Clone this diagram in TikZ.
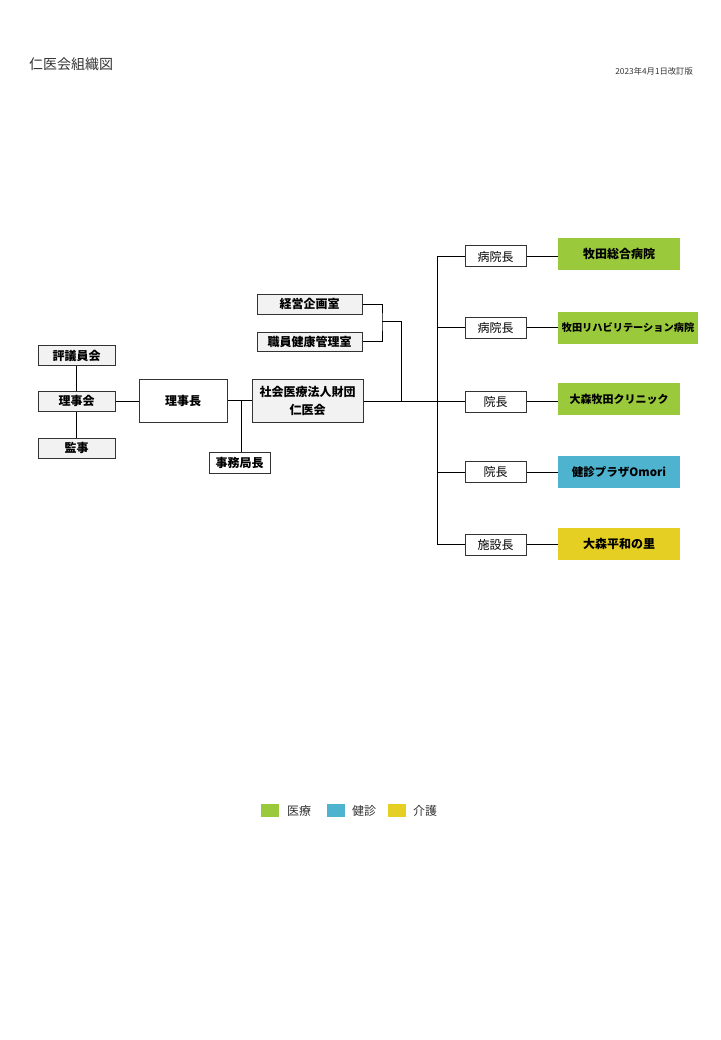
\documentclass[tikz,border=0pt]{standalone}
\usepackage{fontspec}
\setmainfont{Noto Sans CJK JP}
\definecolor{boxgray}{HTML}{F2F2F2}
\definecolor{linegray}{HTML}{333333}
\definecolor{igreen}{HTML}{9ACA3C}
\definecolor{iblue}{HTML}{4DB3CF}
\definecolor{iyellow}{HTML}{E4CF22}
\begin{document}
\begin{tikzpicture}[x=1pt,y=-1pt,
  base/.style={draw=linegray,line width=1pt,inner sep=0pt,font=\fontsize{12}{18}\selectfont\bfseries,align=center},
  graybox/.style={base,fill=boxgray},
  whitebox/.style={base,fill=white},
  colbox/.style={inner sep=0pt,font=\fontsize{12}{14}\selectfont\bfseries,minimum width=122pt,minimum height=32pt},
  conn/.style={draw=black,line width=1pt},
  legsq/.style={inner sep=0pt,minimum width=18pt,minimum height=13pt},
  legtxt/.style={anchor=west,inner sep=0pt,font=\fontsize{12}{14}\selectfont,text=linegray}]
\fill[white] (0,0) rectangle (720,1040);
\useasboundingbox (0,0) rectangle (720,1040);
% title and date
\node[anchor=west,inner sep=0pt,font=\fontsize{14}{16}\selectfont,text=linegray] (title) at (29,64) {仁医会組織図};
\node[anchor=east,inner sep=0pt,font=\fontsize{8.3}{10}\selectfont,text=linegray] (date) at (693,71) {2023年4月1日改訂版};
% left cluster
\node[graybox,minimum width=77pt,minimum height=20pt] (hyogi) at (76.5,355.5) {評議員会};
\node[graybox,minimum width=77pt,minimum height=20pt] (rijikai) at (76.5,401) {理事会};
\node[graybox,minimum width=77pt,minimum height=20pt] (kanji) at (76.5,448) {監事};
\node[whitebox,minimum width=88pt,minimum height=43pt] (rijicho) at (183,400.5) {理事長};
\node[graybox,minimum width=111pt,minimum height=43pt] (zaidan) at (307.5,400.5) {社会医療法人財団\\仁医会};
\node[whitebox,minimum width=61pt,minimum height=21pt] (jimu) at (239.5,462.5) {事務局長};
\node[graybox,minimum width=105pt,minimum height=20pt] (keiei) at (309.5,304) {経営企画室};
\node[graybox,minimum width=105pt,minimum height=19pt] (shokuin) at (309.5,341.5) {職員健康管理室};
% right column heads
\node[whitebox,minimum width=61pt,minimum height=21pt] (h1) at (495.5,256.5) {\mdseries 病院長};
\node[whitebox,minimum width=61pt,minimum height=21pt] (h2) at (495.5,327.5) {\mdseries 病院長};
\node[whitebox,minimum width=61pt,minimum height=21pt] (h3) at (495.5,401.5) {\mdseries 院長};
\node[whitebox,minimum width=61pt,minimum height=21pt] (h4) at (495.5,472) {\mdseries 院長};
\node[whitebox,minimum width=61pt,minimum height=21pt] (h5) at (495.5,544.5) {\mdseries 施設長};
% facilities
\node[colbox,fill=igreen] (f1) at (619,254) {牧田総合病院};
\node[colbox,fill=igreen,minimum width=140pt,font=\fontsize{10.2}{12}\selectfont\bfseries] (f2) at (628,327.5) {牧田リハビリテーション病院};
\node[colbox,fill=igreen,font=\fontsize{11}{13}\selectfont\bfseries] (f3) at (619,399) {大森牧田クリニック};
\node[colbox,fill=iblue,font=\fontsize{11.5}{13}\selectfont\bfseries] (f4) at (619,472) {健診プラザOmori};
\node[colbox,fill=iyellow] (f5) at (619,544) {大森平和の里};
% connectors left
\draw[conn] (hyogi.south) -- (rijikai.north);
\draw[conn] (rijikai.south) -- (kanji.north);
\draw[conn] (rijikai.east) -- (rijicho.west |- rijikai.east);
\draw[conn] (rijicho.east) -- (zaidan.west);
\coordinate (jj) at (241,400.5);
\draw[conn] (jj) -- (jj |- jimu.north);
% office bracket
\coordinate (bx) at (382,321);
\coordinate (bj) at (401,401.5);
\draw[conn] (keiei.east) -| (bx) |- (shokuin.east);
\draw[conn] (bx) -| (bj);
% trunk
\coordinate (tj) at (437,401.5);
\coordinate (ttop) at (437,256.5);
\coordinate (tbot) at (437,544.5);
\draw[conn] (zaidan.east |- tj) -- (tj);
\draw[conn] (ttop) -- (tbot);
\foreach \h in {h1,h2,h3,h4,h5}{
  \draw[conn] (\h.west -| tj) -- (\h.west);
}
\draw[conn] (h1.east) -- (f1.west |- h1.east);
\draw[conn] (h2.east) -- (f2.west |- h2.east);
\draw[conn] (h3.east) -- (f3.west |- h3.east);
\draw[conn] (h4.east) -- (f4.west |- h4.east);
\draw[conn] (h5.east) -- (f5.west |- h5.east);
% legend
\node[legsq,fill=igreen] (lg1) at (270,810.5) {};
\node[legtxt] (lt1) at (287,811) {医療};
\node[legsq,fill=iblue] (lg2) at (335.5,810.5) {};
\node[legtxt] (lt2) at (352,811) {健診};
\node[legsq,fill=iyellow] (lg3) at (397,810.5) {};
\node[legtxt] (lt3) at (413,811) {介護};
\end{tikzpicture}
\end{document}
